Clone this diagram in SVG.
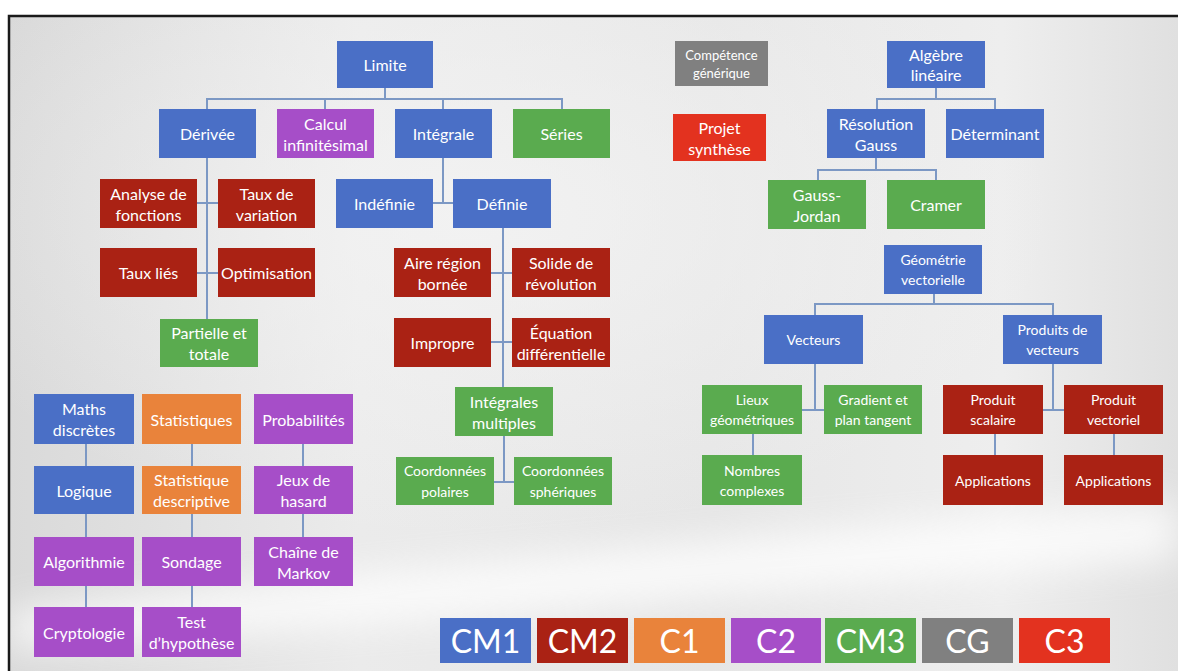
<svg xmlns="http://www.w3.org/2000/svg" width="1178" height="671" viewBox="0 0 1178 671">
<defs>
<linearGradient id="bgH" x1="0" y1="0" x2="1" y2="0">
<stop offset="0" stop-color="#d9d9d9"/>
<stop offset="0.3" stop-color="#ebebeb"/>
<stop offset="0.6" stop-color="#e6e6e6"/>
<stop offset="0.85" stop-color="#eeeeee"/>
<stop offset="1" stop-color="#e0e0e0"/>
</linearGradient>
<radialGradient id="glow" cx="0.4" cy="0.3" r="0.5">
<stop offset="0" stop-color="#f4f4f4" stop-opacity="0.8"/>
<stop offset="1" stop-color="#f4f4f4" stop-opacity="0"/>
</radialGradient>
<filter id="soft" x="-20%" y="-50%" width="140%" height="200%"><feGaussianBlur stdDeviation="18"/></filter>
<style>
.n text{fill:#fff;font-family:Lato,"Noto Sans","Liberation Sans",sans-serif;font-size:16px;text-anchor:middle;dominant-baseline:central}
.s text{font-size:14px}
.xs text{font-size:13px}
.lg text{font-size:32px}
.b rect{fill:#4a6fc6}
.r rect{fill:#aa2214}
.g rect{fill:#5aab4f}
.p rect{fill:#a64ec8}
.o rect{fill:#e9833b}
.gr rect{fill:#808080}
.c3 rect{fill:#e3321f}
#connectors path{fill:none;stroke:#7c98c4;stroke-width:2}
</style>
</defs>
<rect x="0" y="0" width="1178" height="671" fill="#ffffff"/>
<rect x="9" y="16" width="1169" height="655" fill="url(#bgH)"/>
<rect x="9" y="16" width="1169" height="655" fill="url(#glow)"/>
<path d="M9,610 C300,580 700,540 1178,500 L1178,560 C800,590 400,625 9,650 Z" fill="#ffffff" opacity="0.75" filter="url(#soft)"/>
<path d="M9,671 V16 H1178" fill="none" stroke="#1a1a1a" stroke-width="2.5"/>

<g id="connectors">
<path d="M385,88 V99 M207,109 V99 H562 V109 M325,99 V109 M443,99 V109"/>
<path d="M207,158 V319 M197,203 H218 M197,273 H218"/>
<path d="M443,158 V203 M433,203 H453"/>
<path d="M503,228 V387 M491,273 H512 M491,342 H512"/>
<path d="M504,436 V482 M494,482 H514"/>
<path d="M936,88 V99 M877,109 V99 H995 V109"/>
<path d="M876,158 V170 M818,180 V170 H936 V180"/>
<path d="M934,294 V304 M815,315 V304 H1053 V315"/>
<path d="M815,364 V410 M802,410 H824"/>
<path d="M753,434 V455"/>
<path d="M1053,364 V410 M1043,410 H1064"/>
<path d="M995,434 V455 M1114,434 V455"/>
<path d="M86,444 V466 M86,514 V537 M86,586 V607"/>
<path d="M192,444 V466 M192,514 V537 M192,586 V607"/>
<path d="M303,444 V466 M303,514 V537"/>
</g>

<g id="limite" class="n b"><rect x="337" y="41" width="96" height="47"/><text x="385" y="64.5">Limite</text></g>
<g id="derivee" class="n b"><rect x="159" y="109" width="97" height="49"/><text x="207.5" y="133.5">Dérivée</text></g>
<g id="calcul" class="n p"><rect x="277" y="109" width="97" height="49"/><text x="325.5" y="123.5">Calcul</text><text x="325.5" y="144">infinitésimal</text></g>
<g id="integrale" class="n b"><rect x="395" y="109" width="97" height="49"/><text x="443.5" y="133.5">Intégrale</text></g>
<g id="series" class="n g"><rect x="513" y="109" width="97" height="49"/><text x="561.5" y="133.5">Séries</text></g>

<g id="analyse" class="n r"><rect x="100" y="179" width="97" height="49"/><text x="148.5" y="193">Analyse de</text><text x="148.5" y="214">fonctions</text></g>
<g id="taux-variation" class="n r"><rect x="218" y="179" width="97" height="49"/><text x="266.5" y="193">Taux de</text><text x="266.5" y="214">variation</text></g>
<g id="taux-lies" class="n r"><rect x="100" y="248" width="97" height="49"/><text x="148.5" y="272.5">Taux liés</text></g>
<g id="optimisation" class="n r"><rect x="218" y="248" width="97" height="49"/><text x="266.5" y="272.5">Optimisation</text></g>
<g id="partielle" class="n g"><rect x="160" y="319" width="98" height="48"/><text x="209" y="332.5">Partielle et</text><text x="209" y="353.5">totale</text></g>

<g id="indefinie" class="n b"><rect x="336" y="179" width="97" height="49"/><text x="384.5" y="203.5">Indéfinie</text></g>
<g id="definie" class="n b"><rect x="453" y="179" width="98" height="49"/><text x="502" y="203.5">Définie</text></g>
<g id="aire" class="n r"><rect x="394" y="248" width="97" height="49"/><text x="442.5" y="262">Aire région</text><text x="442.5" y="283">bornée</text></g>
<g id="solide" class="n r"><rect x="512" y="248" width="98" height="49"/><text x="561" y="262">Solide de</text><text x="561" y="283">révolution</text></g>
<g id="impropre" class="n r"><rect x="394" y="318" width="97" height="49"/><text x="442.5" y="342.5">Impropre</text></g>
<g id="equation" class="n r"><rect x="512" y="318" width="98" height="49"/><text x="561" y="332">Équation</text><text x="561" y="353">différentielle</text></g>
<g id="integrales-multiples" class="n g"><rect x="455" y="387" width="98" height="49"/><text x="504" y="401">Intégrales</text><text x="504" y="422">multiples</text></g>
<g id="polaires" class="n g s"><rect x="396" y="457" width="98" height="48"/><text x="445" y="470.5">Coordonnées</text><text x="445" y="491">polaires</text></g>
<g id="spheriques" class="n g s"><rect x="514" y="457" width="98" height="48"/><text x="563" y="470.5">Coordonnées</text><text x="563" y="491">sphériques</text></g>

<g id="maths-discretes" class="n b"><rect x="34" y="394" width="100" height="50"/><text x="84" y="408.5">Maths</text><text x="84" y="429.5">discrètes</text></g>
<g id="logique" class="n b"><rect x="34" y="466" width="100" height="48"/><text x="84" y="490">Logique</text></g>
<g id="algorithmie" class="n p"><rect x="34" y="537" width="100" height="49"/><text x="84" y="561.5">Algorithmie</text></g>
<g id="cryptologie" class="n p"><rect x="34" y="607" width="100" height="50"/><text x="84" y="632">Cryptologie</text></g>
<g id="statistiques" class="n o"><rect x="142" y="394" width="99" height="50"/><text x="191.5" y="419">Statistiques</text></g>
<g id="statistique-descriptive" class="n o"><rect x="142" y="466" width="99" height="48"/><text x="191.5" y="479.5">Statistique</text><text x="191.5" y="500.5">descriptive</text></g>
<g id="sondage" class="n p"><rect x="142" y="537" width="99" height="49"/><text x="191.5" y="561.5">Sondage</text></g>
<g id="test" class="n p"><rect x="142" y="607" width="99" height="50"/><text x="191.5" y="621.5">Test</text><text x="191.5" y="642.5">d’hypothèse</text></g>
<g id="probabilites" class="n p"><rect x="254" y="394" width="99" height="50"/><text x="303.5" y="419">Probabilités</text></g>
<g id="jeux" class="n p"><rect x="254" y="466" width="99" height="48"/><text x="303.5" y="479.5">Jeux de</text><text x="303.5" y="500.5">hasard</text></g>
<g id="markov" class="n p"><rect x="254" y="537" width="99" height="49"/><text x="303.5" y="551">Chaîne de</text><text x="303.5" y="572">Markov</text></g>

<g id="competence" class="n gr xs"><rect x="675" y="41" width="93" height="45"/><text x="721.5" y="54.5">Compétence</text><text x="721.5" y="73">générique</text></g>
<g id="projet" class="n c3"><rect x="673" y="114" width="93" height="47"/><text x="719.5" y="127">Projet</text><text x="719.5" y="148">synthèse</text></g>

<g id="algebre" class="n b"><rect x="887" y="41" width="98" height="47"/><text x="936" y="54">Algèbre</text><text x="936" y="74">linéaire</text></g>
<g id="resolution" class="n b"><rect x="827" y="109" width="98" height="49"/><text x="876" y="123">Résolution</text><text x="876" y="144">Gauss</text></g>
<g id="determinant" class="n b"><rect x="946" y="109" width="98" height="49"/><text x="995" y="133.5">Déterminant</text></g>
<g id="gauss-jordan" class="n g"><rect x="768" y="180" width="98" height="49"/><text x="817" y="194">Gauss-</text><text x="817" y="215">Jordan</text></g>
<g id="cramer" class="n g"><rect x="887" y="180" width="98" height="49"/><text x="936" y="204.5">Cramer</text></g>

<g id="geometrie" class="n b s"><rect x="884" y="245" width="98" height="49"/><text x="933" y="259.5">Géométrie</text><text x="933" y="279.5">vectorielle</text></g>
<g id="vecteurs" class="n b s"><rect x="764" y="315" width="99" height="49"/><text x="813.5" y="339.5">Vecteurs</text></g>
<g id="produits" class="n b s"><rect x="1003" y="315" width="99" height="49"/><text x="1052.5" y="329.5">Produits de</text><text x="1052.5" y="349.5">vecteurs</text></g>
<g id="lieux" class="n g s"><rect x="702" y="385" width="100" height="49"/><text x="752" y="399.5">Lieux</text><text x="752" y="419.5">géométriques</text></g>
<g id="gradient" class="n g s"><rect x="824" y="385" width="98" height="49"/><text x="873" y="399.5">Gradient et</text><text x="873" y="419.5">plan tangent</text></g>
<g id="nombres" class="n g s"><rect x="702" y="455" width="100" height="50"/><text x="752" y="470">Nombres</text><text x="752" y="490">complexes</text></g>
<g id="produit-scalaire" class="n r s"><rect x="943" y="385" width="100" height="49"/><text x="993" y="399.5">Produit</text><text x="993" y="419.5">scalaire</text></g>
<g id="produit-vectoriel" class="n r s"><rect x="1064" y="385" width="99" height="49"/><text x="1113.5" y="399.5">Produit</text><text x="1113.5" y="419.5">vectoriel</text></g>
<g id="applications-1" class="n r s"><rect x="943" y="455" width="100" height="50"/><text x="993" y="480">Applications</text></g>
<g id="applications-2" class="n r s"><rect x="1064" y="455" width="99" height="50"/><text x="1113.5" y="480">Applications</text></g>

<g id="legend-cm1" class="n b lg"><rect x="440" y="618" width="91" height="45"/><text x="485.5" y="640.5">CM1</text></g>
<g id="legend-cm2" class="n r lg"><rect x="537" y="618" width="91" height="45"/><text x="582.5" y="640.5">CM2</text></g>
<g id="legend-c1" class="n o lg"><rect x="634" y="618" width="91" height="45"/><text x="679.5" y="640.5">C1</text></g>
<g id="legend-c2" class="n p lg"><rect x="731" y="618" width="90" height="45"/><text x="776" y="640.5">C2</text></g>
<g id="legend-cm3" class="n g lg"><rect x="825" y="618" width="91" height="45"/><text x="870.5" y="640.5">CM3</text></g>
<g id="legend-cg" class="n gr lg"><rect x="922" y="618" width="91" height="45"/><text x="967.5" y="640.5">CG</text></g>
<g id="legend-c3" class="n c3 lg"><rect x="1019" y="618" width="91" height="45"/><text x="1064.5" y="640.5">C3</text></g>
</svg>
